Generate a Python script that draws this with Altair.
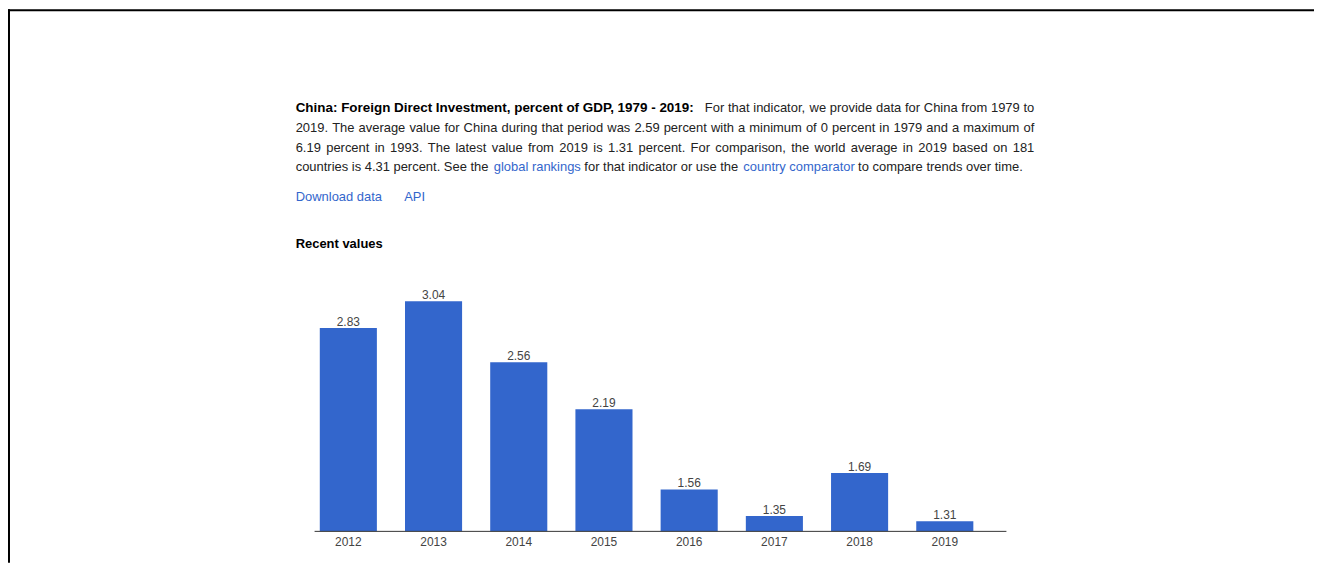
import altair as alt
import pandas as pd

# ---- data ----
years = ["2012", "2013", "2014", "2015", "2016", "2017", "2018", "2019"]
values = [2.83, 3.04, 2.56, 2.19, 1.56, 1.35, 1.69, 1.31]

title_bold = "China: Foreign Direct Investment, percent of GDP, 1979 - 2019:"
line1_rest = "For that indicator, we provide data for China from 1979 to"
line2 = ("2019. The average value for China during that period was 2.59 percent "
         "with a minimum of 0 percent in 1979 and a maximum of")
line3 = ("6.19 percent in 1993. The latest value from 2019 is 1.31 percent. "
         "For comparison, the world average in 2019 based on 181")
line4_a = "countries is 4.31 percent. See the"
line4_link1 = "global rankings"
line4_b = "for that indicator or use the"
line4_link2 = "country comparator"
line4_c = "to compare trends over time."
link_download = "Download data"
link_api = "API"
section_title = "Recent values"

df = pd.DataFrame({"year": years, "value": values})

FONT = "Liberation Sans"
BLUE = "#3366cc"
TXT = "#222222"
W, H = 1312, 556

# Arial / Liberation Sans advance widths (per 1000 em) used to justify lines
_AW = {" ": 278, ",": 278, ".": 278, ":": 278, "-": 333}
_AW.update({d: 556 for d in "0123456789"})
_AW.update(dict(zip("abcdefghijklmnopqrstuvwxyz",
                    [556, 556, 500, 556, 556, 278, 556, 556, 222, 222, 500, 222, 833,
                     556, 556, 556, 556, 333, 500, 278, 556, 500, 722, 500, 500, 500])))
_AW.update({"C": 722, "F": 611, "T": 611, "A": 667, "P": 667})


def word_w(w, size):
    return sum(_AW.get(c, 556) for c in w) * size / 1000.0


def justified(line, x0, x1, y, size=13):
    words = line.split(" ")
    ws = [word_w(w, size) for w in words]
    gap = (x1 - x0 - sum(ws)) / (len(words) - 1)
    xs, x = [], x0
    for wv in ws:
        xs.append(x)
        x += wv + gap
    d = pd.DataFrame({"w": words, "px": xs})
    return alt.Chart(d).mark_text(
        align="left", baseline="alphabetic", font=FONT, fontSize=size, color=TXT
    ).encode(x=alt.X("px:Q", scale=None), y=alt.value(y), text="w:N")


def txt(s, x, y, size=13, weight="normal", color=TXT, align="left"):
    return alt.Chart(alt.Data(values=[{}])).mark_text(
        text=s, align=align, baseline="alphabetic", font=FONT,
        fontSize=size, fontWeight=weight, color=color
    ).encode(x=alt.value(x), y=alt.value(y))


def rule(**enc):
    return alt.Chart(alt.Data(values=[{}])).mark_rule(
        color=enc.pop("color", "black"), strokeWidth=enc.pop("sw", 2)
    ).encode(**enc)


BASE = 1.23
xscale = alt.Scale(range=[299.1, 983.9], paddingInner=0.33, paddingOuter=0.165, round=False)
yscale = alt.Scale(domain=[BASE, 3.04], range=[524.5, 293.4], zero=False, nice=False)

X = alt.X("year:N", scale=xscale, axis=None, sort=years)
Y = alt.Y("value:Q", scale=yscale, axis=None)

base = alt.Chart(df)
bars = base.mark_bar(color=BLUE).encode(x=X, y=Y, y2=alt.Y2(datum=BASE))
vlabels = base.mark_text(
    baseline="alphabetic", dy=-2, font=FONT, fontSize=12, color="#444444"
).encode(x=X, y=Y, text=alt.Text("value:Q", format=".2f"))
ylabels = base.mark_text(
    baseline="alphabetic", font=FONT, fontSize=12, color="#444444"
).encode(x=X, y=alt.value(539.5), text="year:N")

LX, RX = 289, 1031
layers = [
    rule(x=alt.value(0), x2=alt.value(W), y=alt.value(1)),
    rule(x=alt.value(1), y=alt.value(0), y2=alt.value(H)),
    txt(title_bold, LX, 103, size=13.5, weight="bold", color="#000000"),
    justified(line1_rest, 700, RX, 103),
    justified(line2, LX, RX, 123),
    justified(line3, LX, RX, 143),
    txt(line4_a, LX, 162.5),
    txt(line4_link1, 488, 162.5, color=BLUE),
    txt(line4_b, 579, 162.5),
    txt(line4_link2, 738.7, 162.5, color=BLUE),
    txt(line4_c, 854, 162.5),
    txt(link_download, LX, 193, color=BLUE),
    txt(link_api, 398, 193, color=BLUE),
    txt(section_title, LX, 239.5, weight="bold", color="#000000"),
    bars,
    rule(x=alt.value(308), x2=alt.value(1003), y=alt.value(524.5), color="#333333", sw=1),
    vlabels,
    ylabels,
]

chart = alt.layer(*layers).properties(
    width=W, height=H, padding=0,
    autosize=alt.AutoSizeParams(type="none"),
    background="white",
).configure_view(stroke="transparent")

chart.save("out.html", embed_options={"renderer": "svg", "actions": False})
